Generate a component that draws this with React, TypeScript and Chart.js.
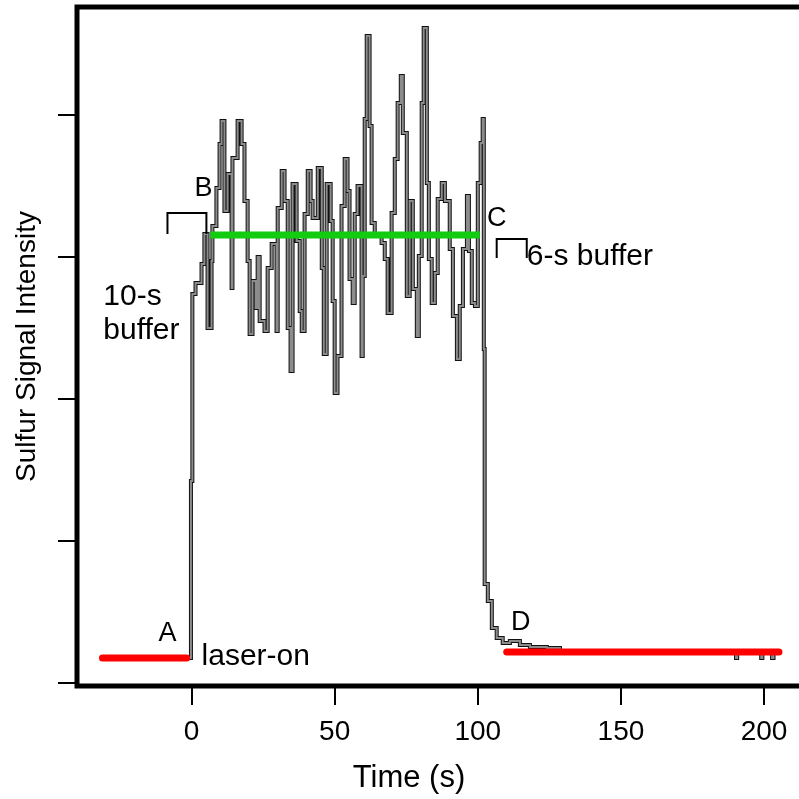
import React, { useEffect, useRef } from 'react';
import { Chart, registerables } from 'chart.js';

Chart.register(...registerables);

const FONT = '"Liberation Sans", Arial, Helvetica, sans-serif';

// Sulfur signal trace (time in s, intensity in arbitrary units)
const signalTime = [
  -31.1, -0.7, -0.2, 0.3, 1.4, 3.5, 4.5, 5.6, 7.0, 7.3, 8.7, 9.8, 10.5, 11.5, 12.6, 14.0, 14.3,
  16.1, 17.5, 18.5, 19.6, 20.3, 21.3, 22.4, 23.1, 23.8, 25.5, 26.6, 28.0, 29.7, 30.1, 31.5,
  32.5, 33.6, 34.6, 35.3, 36.7, 37.8, 38.5, 39.5, 40.6, 41.6, 42.3, 44.1, 45.5, 46.2, 47.2,
  48.6, 49.3, 50.0, 51.0, 52.4, 53.5, 54.5, 55.2, 56.3, 57.0, 58.0, 59.4, 59.8, 60.5, 61.2,
  62.2, 62.9, 64.0, 66.4, 67.5, 68.5, 69.9, 71.0, 72.0, 73.1, 73.8, 75.2, 76.2, 77.3, 78.7,
  79.4, 80.4, 81.1, 82.2, 82.9, 83.9, 85.0, 86.0, 87.4, 88.5, 90.2, 91.3, 92.7, 93.7, 94.8,
  96.2, 96.9, 97.9, 99.0, 100.0, 101.0, 101.7, 102.1, 102.4, 103.5, 104.9, 106.6, 108.7,
  111.2, 114.7, 118.2, 124.1, 128.7, 190.2, 190.6, 199.0, 199.4, 202.8, 203.3, 205.6,
];
const signalValue = [
  17.6, 17.6, 142.3, 273.9, 281.7, 295.1, 316.2, 250.0, 297.2, 321.8, 348.6, 379.6, 395.8, 332.4, 358.5, 278.2, 369.7,
  395.8, 379.6, 339.4, 297.2, 245.8, 283.1, 264.1, 300.0, 254.9, 247.9, 292.3, 309.2, 247.9, 334.5, 360.6,
  339.4, 250.0, 219.7, 351.4, 311.3, 262.0, 247.9, 330.3, 360.6, 339.4, 327.5, 362.7, 292.3, 231.7, 351.4,
  325.4, 269.0, 204.2, 230.3, 335.9, 369.0, 346.5, 284.5, 267.6, 330.3, 350.0, 230.3, 286.6, 397.2, 455.6,
  392.3, 323.9, 314.8, 309.9, 298.6, 260.6, 331.0, 369.0, 408.5, 427.5, 387.3, 272.5, 339.4, 277.5, 244.4,
  300.7, 408.5, 461.3, 352.1, 298.6, 267.6, 288.7, 340.8, 352.1, 339.4, 305.6, 258.5, 228.2, 265.5, 305.6,
  343.0, 304.2, 267.6, 265.5, 352.1, 380.3, 397.2, 235.2, 69.7, 57.7, 38.7, 31.7, 28.2,
  29.6, 26.8, 25.4, 24.6, 22.5, 17.6, 22.5, 17.6, 22.5, 17.6, 22.5, 22.5,
];

// Highlight segments
const baselineATime = [-31.1, -1.7];
const baselineAValue = [17.6, 17.6];
const baselineDTime = [110.1, 205.2];
const baselineDValue = [21.8, 21.8];
const plateauTime = [6.6, 100.7];
const plateauValue = [315.5, 315.5];

// Axes
const xTickValues = [0, 50, 100, 150, 200];
const yTickValues = [0, 100, 200, 300, 400];
const xMin = -40;
const xMax = 212.2;
const yMin = -2.1;
const yMax = 476.1;
const xTitle = 'Time (s)';
const yTitle = 'Sulfur Signal Intensity';

// Annotations
const letterTexts = ['A', 'B', 'C', 'D'];
const letterTimes = [-8.4, 4.2, 106.6, 115.0];
const letterValues = [34.5, 347.9, 326.8, 42.3];
const noteTexts = ['laser-on', '10-s', 'buffer', '6-s buffer'];
const noteTimes = [3.5, -30.8, -30.8, 117.1];
const noteValues = [18.3, 271.8, 247.9, 300.0];
const bracketStart = [-8.4, 106.6];
const bracketEnd = [5.2, 117.1];
const bracketTop = [331.0, 312.7];
const bracketBottom = [316.2, 299.3];

const toPoints = (xs: number[], ys: number[]) => xs.map((x, i) => ({ x, y: ys[i] }));

const decorPlugin = {
  id: 'decor',
  afterDatasetsDraw(chart: any) {
    const { ctx, scales } = chart;
    const xs = scales.x;
    const ys = scales.y;
    ctx.save();
    ctx.fillStyle = '#000';
    ctx.textBaseline = 'middle';
    ctx.textAlign = 'center';
    ctx.font = `27px ${FONT}`;
    letterTexts.forEach((t, i) => {
      ctx.fillText(t, xs.getPixelForValue(letterTimes[i]), ys.getPixelForValue(letterValues[i]));
    });
    ctx.textAlign = 'left';
    ctx.font = `30px ${FONT}`;
    noteTexts.forEach((t, i) => {
      ctx.fillText(t, xs.getPixelForValue(noteTimes[i]), ys.getPixelForValue(noteValues[i]));
    });
    ctx.strokeStyle = '#000';
    ctx.lineWidth = 2;
    ctx.lineJoin = 'miter';
    bracketStart.forEach((s, i) => {
      const x1 = xs.getPixelForValue(s);
      const x2 = xs.getPixelForValue(bracketEnd[i]);
      const yt = ys.getPixelForValue(bracketTop[i]);
      const yb = ys.getPixelForValue(bracketBottom[i]);
      ctx.beginPath();
      ctx.moveTo(x1, yb);
      ctx.lineTo(x1, yt);
      ctx.lineTo(x2, yt);
      ctx.lineTo(x2, yb);
      ctx.stroke();
    });
    ctx.restore();
  },
  afterDraw(chart: any) {
    const { ctx, chartArea, width } = chart;
    ctx.save();
    ctx.strokeStyle = '#000';
    ctx.lineWidth = 5;
    ctx.lineJoin = 'miter';
    ctx.beginPath();
    ctx.moveTo(width + 5, chartArea.top);
    ctx.lineTo(chartArea.left, chartArea.top);
    ctx.lineTo(chartArea.left, chartArea.bottom);
    ctx.lineTo(width + 5, chartArea.bottom);
    ctx.stroke();
    ctx.fillStyle = '#000';
    ctx.font = `31px ${FONT}`;
    ctx.textAlign = 'center';
    ctx.textBaseline = 'middle';
    ctx.fillText(xTitle, 409, 778);
    ctx.font = `28px ${FONT}`;
    ctx.translate(27, (chartArea.top + chartArea.bottom) / 2);
    ctx.rotate(-Math.PI / 2);
    ctx.fillText(yTitle, 0, 0);
    ctx.restore();
  },
};

export default function App() {
  const canvasRef = useRef<HTMLCanvasElement | null>(null);

  useEffect(() => {
    if (!canvasRef.current) return;
    const chart = new Chart(canvasRef.current, {
      type: 'line',
      data: {
        datasets: [
          {
            data: toPoints(baselineATime, baselineAValue),
            borderColor: '#ff0000',
            borderWidth: 7,
            borderCapStyle: 'round',
            pointRadius: 0,
            order: 0,
          },
          {
            data: toPoints(baselineDTime, baselineDValue),
            borderColor: '#ff0000',
            borderWidth: 7,
            borderCapStyle: 'round',
            pointRadius: 0,
            order: 0,
          },
          {
            data: toPoints(plateauTime, plateauValue),
            borderColor: '#11cc11',
            borderWidth: 7,
            borderCapStyle: 'butt',
            pointRadius: 0,
            order: 1,
          },
          {
            data: toPoints(signalTime, signalValue),
            borderColor: '#8c8c8c',
            borderWidth: 2,
            stepped: 'before',
            pointRadius: 0,
            order: 2,
          },
          {
            data: toPoints(signalTime, signalValue),
            borderColor: '#111111',
            borderWidth: 4,
            stepped: 'before',
            pointRadius: 0,
            order: 3,
          },
        ],
      },
      options: {
        animation: false,
        responsive: false,
        devicePixelRatio: 1,
        layout: { padding: { top: 7, left: 0, right: 0, bottom: 0 } },
        plugins: { legend: { display: false }, tooltip: { enabled: false } },
        scales: {
          x: {
            type: 'linear',
            position: 'bottom',
            min: xMin,
            max: xMax,
            afterBuildTicks: (s: any) => {
              s.ticks = xTickValues.map((v) => ({ value: v }));
            },
            afterFit: (s: any) => {
              s.height = 113;
            },
            grid: {
              display: true,
              drawOnChartArea: false,
              drawTicks: true,
              tickLength: 19,
              color: '#000',
              lineWidth: 2,
            },
            border: { display: false },
            ticks: {
              color: '#000',
              font: { size: 28, family: FONT },
              padding: 10,
              maxRotation: 0,
              autoSkip: false,
              callback: (v: any) => String(v),
            },
          },
          y: {
            type: 'linear',
            min: yMin,
            max: yMax,
            afterBuildTicks: (s: any) => {
              s.ticks = yTickValues.map((v) => ({ value: v }));
            },
            afterFit: (s: any) => {
              s.width = 77;
            },
            grid: {
              display: true,
              drawOnChartArea: false,
              drawTicks: true,
              tickLength: 19,
              color: '#000',
              lineWidth: 2,
            },
            border: { display: false },
            ticks: { display: false },
          },
        },
      } as any,
      plugins: [decorPlugin],
    });
    return () => chart.destroy();
  }, []);

  return (
    <div style={{ position: 'fixed', left: 0, top: 0, width: 799, height: 799, background: '#fff' }}>
      <canvas ref={canvasRef} width={799} height={799} style={{ display: 'block' }} />
    </div>
  );
}
